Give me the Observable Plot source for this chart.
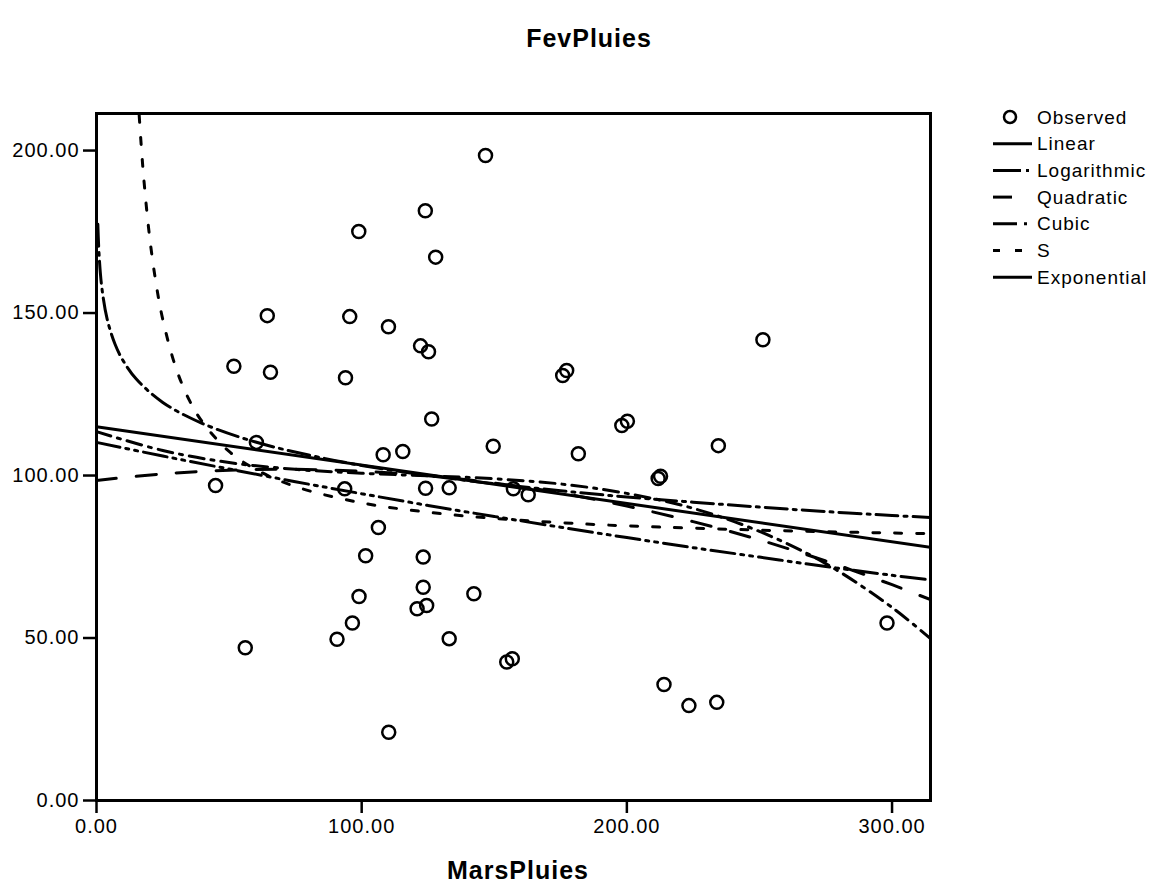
<!DOCTYPE html>
<html><head><meta charset="utf-8">
<script src="https://cdn.jsdelivr.net/npm/d3@7"></script>
<script src="https://cdn.jsdelivr.net/npm/@observablehq/plot@0.6"></script>
<style>
body{margin:0;background:#fff;}
#wrap{position:relative;width:1159px;height:888px;font-family:"Liberation Sans",Arial,sans-serif;color:#000;}
#chart{position:absolute;left:0;top:0;}
#chart svg text{letter-spacing:1px;}
.ttl{position:absolute;font-weight:bold;font-size:25px;letter-spacing:1px;transform:translate(-50%,-50%);white-space:nowrap;}
</style></head>
<body><div id="wrap"><div id="chart"></div>
<div class="ttl" style="left:589px;top:38px">FevPluies</div>
<div class="ttl" style="left:518px;top:870px">MarsPluies</div>
</div>
<script>
// Observed points (MarsPluies, FevPluies)
const obsX = [146.7,124.0,98.9,127.9,64.4,95.5,110.1,251.3,122.2,125.2,51.8,65.6,93.9,175.8,177.3,126.4,198.1,200.2,60.3,115.5,108.1,181.7,149.6,234.5,211.8,212.7,44.9,93.6,124.1,133.0,157.2,162.8,106.3,101.5,123.2,99.0,123.2,120.9,124.5,142.3,96.5,90.7,133.0,56.1,154.7,156.8,214.0,223.4,233.9,298.1,110.2];
const obsY = [198.5,181.5,175.1,167.2,149.2,148.9,145.8,141.8,139.9,138.1,133.6,131.8,130.1,130.8,132.3,117.4,115.4,116.7,110.2,107.4,106.4,106.7,109.0,109.2,99.1,99.8,96.9,95.9,96.1,96.2,95.9,94.1,84.0,75.3,74.9,62.8,65.6,59.0,60.0,63.6,54.6,49.6,49.8,47.0,42.6,43.6,35.7,29.2,30.2,54.6,21.0];

// Fitted curves
const linX = [0, 314.5];
const linY = [115.0, 77.9];
const logX = [0.5,1,2,4,7,10,15,25,40,60,80,100,125,150,175,200,225,250,275,300,314.5];
const logY = [177.3,167.6,157.9,148.2,140.4,135.4,129.7,122.5,116.0,110.3,106.3,103.1,100.0,97.5,95.3,93.4,91.8,90.3,88.9,87.7,87.1];
const gridX = [0,25,50,75,100,125,150,175,200,225,250,275,300,314.5];
const quadY = [98.5,100.5,101.6,101.9,101.3,99.9,97.7,94.6,90.6,85.8,80.2,73.7,66.4,61.8];
const cubY  = [113.5,107.7,104.0,101.9,100.7,99.9,99.0,97.4,94.5,89.9,82.8,72.9,59.4,49.8];
const expY  = [110.2,106.0,102.0,98.1,94.4,90.8,87.4,84.1,80.9,77.8,74.9,72.0,69.3,67.9];
const sX = [16.1,17,18,20,22.5,25,30,35,40,50,60,75,100,125,150,175,200,250,300,314.5];
const sY = [210.8,200.0,189.8,173.6,158.9,148.0,133.0,123.2,116.4,107.4,101.9,96.6,91.6,88.7,86.8,85.5,84.5,83.2,82.3,82.1];

const xTicks = [0,100,200,300];
const yTicks = [0,50,100,150,200];
const legendLabels = ["Observed","Linear","Logarithmic","Quadratic","Cubic","S","Exponential"];

const pts = (xs, ys) => xs.map((x, i) => ({x, y: ys[i]}));
const obs = pts(obsX, obsY);

const lineOpts = (dash) => ({x: "x", y: "y", stroke: "black", strokeWidth: 3, strokeDasharray: dash, curve: "catmull-rom", clip: true});

const chart = Plot.plot({
  width: 1159, height: 888,
  marginLeft: 96, marginRight: 229, marginTop: 113, marginBottom: 88,
  style: {fontFamily: '"Liberation Sans", Arial, sans-serif', fontSize: "20px", color: "black", background: "white"},
  x: {domain: [0, 314.5]},
  y: {domain: [0, 211.4]},
  marks: [
    Plot.line(pts(linX, linY), lineOpts(null)),
    Plot.line(pts(logX, logY), lineOpts("22,6,3,6")),
    Plot.line(pts(gridX, quadY), lineOpts("20,20")),
    Plot.line(pts(gridX, cubY), lineOpts("15,7,3,7")),
    Plot.line(pts(sX, sY), lineOpts("7,15")),
    Plot.line(pts(gridX, expY), lineOpts("24,6,3,6,3,6")),
    Plot.dot(obs, {x: "x", y: "y", r: 6.5, stroke: "black", strokeWidth: 2.5, fill: "none"}),
    Plot.frame({stroke: "black", strokeWidth: 3}),
    Plot.axisX(xTicks, {tickSize: 13, tickPadding: 5, tickFormat: d => d.toFixed(2), label: null, strokeWidth: 2.5, fontSize: 20}),
    Plot.axisY(yTicks, {tickSize: 13, tickPadding: 4, tickFormat: d => d.toFixed(2), label: null, strokeWidth: 2.5, fontSize: 20})
  ]
});
document.getElementById("chart").appendChild(chart);

// Legend
const legendDash = [null, null, "28,5,3,20", "19,40", "24,7,3,30", "7,15", null];
const ly0 = 117, ldy = 26.7;
const NS = "http://www.w3.org/2000/svg";
const lg = document.createElementNS(NS, "svg");
lg.setAttribute("width", 1159); lg.setAttribute("height", 300);
lg.style.position = "absolute"; lg.style.left = "0px"; lg.style.top = "0px";
legendLabels.forEach((lab, i) => {
  const y = ly0 + i * ldy;
  if (i === 0) {
    const c = document.createElementNS(NS, "circle");
    c.setAttribute("cx", 1010); c.setAttribute("cy", y); c.setAttribute("r", 6);
    c.setAttribute("fill", "none"); c.setAttribute("stroke", "black"); c.setAttribute("stroke-width", 2.5);
    lg.appendChild(c);
  } else {
    const l = document.createElementNS(NS, "line");
    l.setAttribute("x1", 993); l.setAttribute("x2", 1032); l.setAttribute("y1", y); l.setAttribute("y2", y);
    l.setAttribute("stroke", "black"); l.setAttribute("stroke-width", 3);
    if (legendDash[i]) l.setAttribute("stroke-dasharray", legendDash[i]);
    lg.appendChild(l);
  }
  const t = document.createElementNS(NS, "text");
  t.setAttribute("x", 1037); t.setAttribute("y", y); t.setAttribute("dy", "0.35em");
  t.setAttribute("font-family", '"Liberation Sans", Arial, sans-serif');
  t.setAttribute("font-size", 19); t.setAttribute("letter-spacing", "1px");
  t.textContent = lab;
  lg.appendChild(t);
});
document.getElementById("wrap").appendChild(lg);
</script>
</body></html>
